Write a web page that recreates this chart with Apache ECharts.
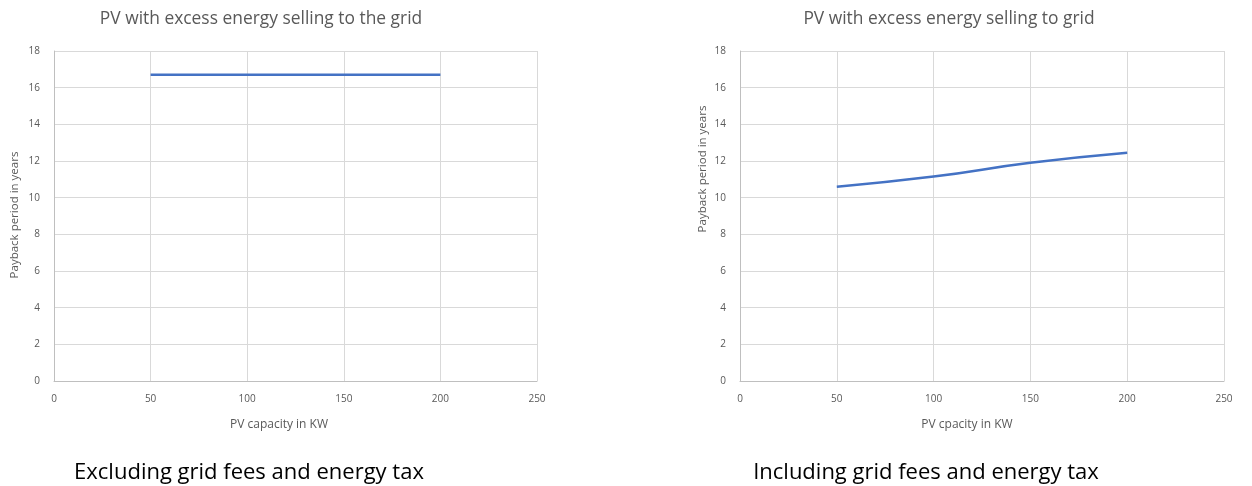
<!DOCTYPE html>
<html>
<head>
<meta charset="utf-8">
<script src="https://cdn.jsdelivr.net/npm/echarts@6/dist/echarts.min.js"></script>
<style>
  html, body { margin: 0; padding: 0; background: #fff; }
  #chart { width: 1252px; height: 486px; }
</style>
</head>
<body>
<div id="chart"></div>
<script>
// data
const capacity = [50, 100, 150, 200];
const paybackExcl = [16.7, 16.7, 16.7, 16.7];
const paybackIncl = [10.6, 11.15, 11.9, 12.45];
const xTicks = [0, 250, 50];
const yTicks = [0, 18, 2];

const font = "Open Sans";
const grey = "#595959";

function pairs(xs, ys) {
  return xs.map((x, i) => [x, ys[i]]);
}

function xAxisOf(gridIndex) {
  return {
    gridIndex,
    type: "value",
    min: xTicks[0],
    max: xTicks[1],
    interval: xTicks[2],
    axisLine: { show: true, lineStyle: { color: "#bfbfbf" } },
    axisTick: { show: false },
    splitLine: { lineStyle: { color: "#d9d9d9" } },
    axisLabel: { color: grey, fontFamily: font, fontSize: 10, margin: 13 },
  };
}

function yAxisOf(gridIndex) {
  return {
    gridIndex,
    type: "value",
    min: yTicks[0],
    max: yTicks[1],
    interval: yTicks[2],
    axisLine: { show: true, lineStyle: { color: "#bfbfbf" } },
    axisTick: { show: false },
    splitLine: { lineStyle: { color: "#d9d9d9" } },
    axisLabel: { color: grey, fontFamily: font, fontSize: 10, margin: 14 },
  };
}

const lineStyle = { width: 2.5, color: "#4472c4" };

const chart = echarts.init(document.getElementById("chart"));
chart.setOption({
  animation: false,
  grid: [
    { left: 54, top: 51, width: 483, height: 330 },
    { left: 740, top: 51, width: 484, height: 330 },
  ],
  title: [
    {
      text: "PV with excess energy selling to the grid",
      left: 256, top: 6, textAlign: "center",
      textStyle: { color: grey, fontFamily: font, fontSize: 17.4, fontWeight: "normal" },
    },
    {
      text: "PV with excess energy selling to grid",
      left: 944, top: 6, textAlign: "center",
      textStyle: { color: grey, fontFamily: font, fontSize: 17.4, fontWeight: "normal" },
    },
    {
      text: "PV capacity in KW",
      left: 274, top: 414, textAlign: "center",
      textStyle: { color: grey, fontFamily: font, fontSize: 12, fontWeight: "normal" },
    },
    {
      text: "PV cpacity in KW",
      left: 962, top: 414, textAlign: "center",
      textStyle: { color: grey, fontFamily: font, fontSize: 12, fontWeight: "normal" },
    },
    {
      text: "Excluding grid fees and energy tax",
      left: 244, top: 457, textAlign: "center",
      textStyle: { color: "#000", fontFamily: font, fontSize: 22, fontWeight: "normal" },
    },
    {
      text: "Including grid fees and energy tax",
      left: 921, top: 457, textAlign: "center",
      textStyle: { color: "#000", fontFamily: font, fontSize: 22, fontWeight: "normal" },
    },
  ],
  graphic: [
    {
      type: "text", x: 15, y: 215, rotation: Math.PI / 2,
      style: {
        text: "Payback period in years", fill: grey, font: "11.5px " + font,
        align: "center", verticalAlign: "middle",
      },
    },
    {
      type: "text", x: 703, y: 169, rotation: Math.PI / 2,
      style: {
        text: "Payback period in years", fill: grey, font: "11.5px " + font,
        align: "center", verticalAlign: "middle",
      },
    },
  ],
  xAxis: [xAxisOf(0), xAxisOf(1)],
  yAxis: [yAxisOf(0), yAxisOf(1)],
  series: [
    {
      type: "line", xAxisIndex: 0, yAxisIndex: 0,
      data: pairs(capacity, paybackExcl),
      showSymbol: false, lineStyle,
    },
    {
      type: "line", xAxisIndex: 1, yAxisIndex: 1,
      data: pairs(capacity, paybackIncl),
      smooth: 0.5, showSymbol: false, lineStyle,
    },
  ],
});
</script>
</body>
</html>
